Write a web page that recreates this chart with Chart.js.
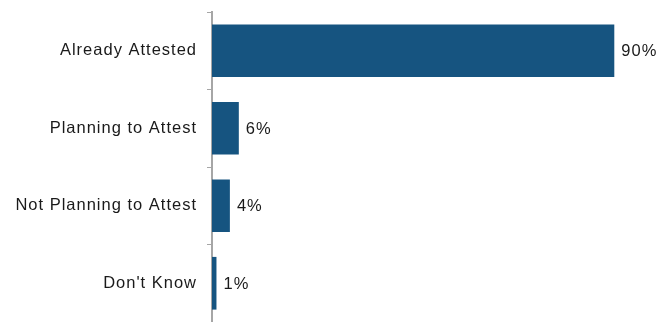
<!DOCTYPE html>
<html>
<head>
<meta charset="utf-8">
<script src="https://cdn.jsdelivr.net/npm/chart.js@4/dist/chart.umd.min.js"></script>
<style>
  html, body { margin: 0; padding: 0; background: #fff; }
  #wrap { width: 663px; height: 322px; }
</style>
</head>
<body>
<div id="wrap"><canvas id="bars"></canvas></div>
<script>
const categories = ["Already Attested", "Planning to Attest", "Not Planning to Attest", "Don't Know"];
const shares = [90, 6, 4, 1];
const valueLabels = ["90%", "6%", "4%", "1%"];

const barColor = "#165480";
const textColor = "#1a1a1a";
const fontFamily = "'Liberation Sans', Arial, sans-serif";
const fontSize = 16.5;
const spacing = "1px";

// slightly wider letter spacing for all text on the canvas
const spacingPlugin = {
  id: "spacing",
  beforeDraw(chart) {
    chart.ctx.letterSpacing = spacing;
  },
};

// write the percentage just past the end of each bar
const valueLabelPlugin = {
  id: "valueLabels",
  afterDatasetsDraw(chart) {
    const ctx = chart.ctx;
    const meta = chart.getDatasetMeta(0);
    ctx.save();
    ctx.letterSpacing = spacing;
    ctx.font = fontSize + "px " + fontFamily;
    ctx.fillStyle = textColor;
    ctx.textAlign = "left";
    ctx.textBaseline = "middle";
    meta.data.forEach((bar, i) => {
      ctx.fillText(valueLabels[i], bar.x + 7, bar.y + 1);
    });
    ctx.restore();
  },
};

new Chart(document.getElementById("bars"), {
  type: "bar",
  data: {
    labels: categories,
    datasets: [
      {
        data: shares,
        backgroundColor: barColor,
        borderWidth: 0,
        categoryPercentage: 1,
        barPercentage: 0.68,
      },
    ],
  },
  options: {
    indexAxis: "y",
    responsive: true,
    maintainAspectRatio: false,
    animation: false,
    layout: { padding: { top: 12, right: 4, bottom: 0, left: 0 } },
    plugins: {
      legend: { display: false },
      tooltip: { enabled: false },
    },
    scales: {
      x: {
        display: false,
        min: 0,
        max: 100,
      },
      y: {
        afterFit(scale) {
          scale.width = 212;
          scale.paddingTop = 0;
          scale.paddingBottom = 0;
        },
        border: { display: true, color: "#a6a6a6", width: 2 },
        grid: {
          display: true,
          drawOnChartArea: false,
          drawTicks: true,
          tickLength: 5,
          tickColor: "#a6a6a6",
          tickWidth: 1,
        },
        ticks: {
          color: textColor,
          padding: 10,
          font: { family: fontFamily, size: fontSize },
        },
      },
    },
  },
  plugins: [spacingPlugin, valueLabelPlugin],
});
</script>
</body>
</html>
